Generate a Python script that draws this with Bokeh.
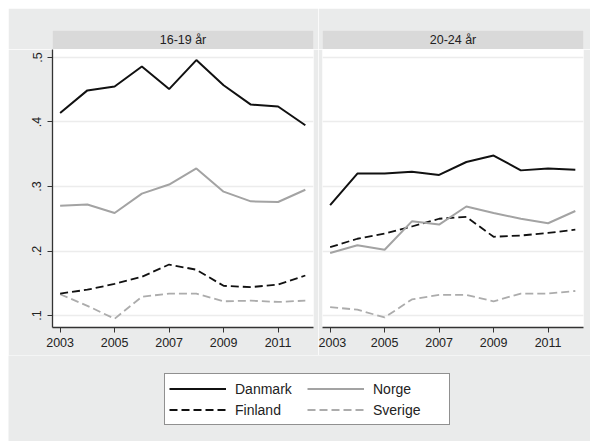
from bokeh.plotting import figure
from bokeh.layouts import column, row
from bokeh.models import (Range1d, FixedTicker, CustomJSTickFormatter, Label,
                          Legend, LegendItem)
from bokeh.embed import file_html
from bokeh.resources import INLINE

# ---------------- data ----------------
years = [2003, 2004, 2005, 2006, 2007, 2008, 2009, 2010, 2011, 2012]
panel_titles = ["16-19 år", "20-24 år"]
countries = ["Danmark", "Norge", "Finland", "Sverige"]

danmark_16 = [0.414, 0.449, 0.455, 0.486, 0.451, 0.496, 0.457, 0.427, 0.424, 0.395]
norge_16 = [0.270, 0.272, 0.259, 0.289, 0.303, 0.328, 0.292, 0.277, 0.276, 0.295]
finland_16 = [0.134, 0.140, 0.149, 0.160, 0.179, 0.171, 0.146, 0.144, 0.148, 0.162]
sverige_16 = [0.133, 0.115, 0.095, 0.129, 0.134, 0.134, 0.122, 0.123, 0.121, 0.123]

danmark_20 = [0.271, 0.320, 0.320, 0.323, 0.318, 0.338, 0.348, 0.325, 0.328, 0.326]
norge_20 = [0.197, 0.209, 0.202, 0.246, 0.241, 0.269, 0.259, 0.250, 0.243, 0.262]
finland_20 = [0.206, 0.219, 0.227, 0.238, 0.250, 0.253, 0.222, 0.224, 0.228, 0.233]
sverige_20 = [0.113, 0.109, 0.097, 0.125, 0.132, 0.132, 0.122, 0.134, 0.134, 0.138]

x_ticks = [2003, 2005, 2007, 2009, 2011]
y_ticks = [0.1, 0.2, 0.3, 0.4, 0.5]
y_tick_labels = [".1", ".2", ".3", ".4", ".5"]

panel_data = [
    {"Danmark": danmark_16, "Norge": norge_16, "Finland": finland_16, "Sverige": sverige_16},
    {"Danmark": danmark_20, "Norge": norge_20, "Finland": finland_20, "Sverige": sverige_20},
]

# ---------------- styles ----------------
OUTER = "#eaebeb"
STRIP = "#d9d9d9"
FONT = "Liberation Sans"
TXT = "#222222"
line_styles = {
    "Danmark": dict(line_color="#111111", line_dash="solid", line_width=2),
    "Norge": dict(line_color="#a3a3a3", line_dash="solid", line_width=2),
    "Finland": dict(line_color="#111111", line_dash="8 4", line_width=1.8),
    "Sverige": dict(line_color="#acacac", line_dash="8 4", line_width=1.8),
}

FRAME_W = 261
X_RANGE = (2002.72, 2012.30)
Y_RANGE = (0.0814, 0.5124)
borders = [(44, 5), (4, 7)]


def make_header(title, bl, br):
    h = figure(frame_width=FRAME_W, frame_height=19, x_range=Range1d(0, 1),
               y_range=Range1d(0, 1), x_axis_type=None, y_axis_type=None,
               output_backend="svg", toolbar_location=None,
               min_border_left=bl, min_border_right=br, min_border_top=22,
               min_border_bottom=0, border_fill_color=OUTER,
               background_fill_color=STRIP, outline_line_color=None)
    h.xgrid.visible = False
    h.ygrid.visible = False
    h.add_layout(Label(x=0.5, y=0.5, text=title, text_align="center",
                       text_baseline="middle", text_font=FONT,
                       text_font_size="12.5px", text_color=TXT))
    return h


def make_panel(data, show_y, bl, br):
    p = figure(frame_width=FRAME_W, frame_height=278,
               x_range=Range1d(*X_RANGE), y_range=Range1d(*Y_RANGE),
               output_backend="svg", toolbar_location=None,
               min_border_left=bl, min_border_right=br, min_border_top=0,
               min_border_bottom=28, border_fill_color=OUTER,
               background_fill_color="white", outline_line_color=None)
    for c in ["Sverige", "Finland", "Norge", "Danmark"]:
        p.line(years, data[c], **line_styles[c])
    p.xgrid.visible = False
    p.ygrid.grid_line_color = "#ececec"
    p.ygrid.grid_line_width = 1.5
    p.xaxis.ticker = FixedTicker(ticks=x_ticks)
    p.yaxis.ticker = FixedTicker(ticks=y_ticks)
    p.yaxis.formatter = CustomJSTickFormatter(
        args=dict(tvals=y_ticks, tlabels=y_tick_labels),
        code="const i = tvals.findIndex(t => Math.abs(t - tick) < 1e-9); return i >= 0 ? tlabels[i] : '';")
    for ax in [p.xaxis[0], p.yaxis[0]]:
        ax.axis_line_color = "#333333"
        ax.axis_line_width = 1.3
        ax.major_tick_line_color = "#333333"
        ax.major_tick_out = 5
        ax.major_tick_in = 0
        ax.minor_tick_line_color = None
        ax.major_label_text_font = FONT
        ax.major_label_text_font_size = "12.5px"
        ax.major_label_text_color = TXT
    p.xaxis.major_label_standoff = 5
    p.yaxis.major_label_standoff = 6
    p.yaxis.major_label_orientation = "vertical"
    if not show_y:
        p.yaxis.visible = False
    return p


cols = []
for i, (title, data) in enumerate(zip(panel_titles, panel_data)):
    bl, br = borders[i]
    cols.append(column(make_header(title, bl, br),
                       make_panel(data, i == 0, bl, br), spacing=0))

# legend figure
lf = figure(frame_width=582, frame_height=86, x_range=Range1d(0, 1),
            y_range=Range1d(0, 1), x_axis_type=None, y_axis_type=None,
            output_backend="svg", toolbar_location=None,
            min_border_left=0, min_border_right=0, min_border_top=0,
            min_border_bottom=0, border_fill_color=OUTER,
            background_fill_color=OUTER, outline_line_color=None)
lf.xgrid.visible = False
lf.ygrid.visible = False
items = []
for c in countries:
    r = lf.line(years, panel_data[0][c], visible=False, **line_styles[c])
    items.append(LegendItem(label=c, renderers=[r]))
legend = Legend(items=items, location=(156, 16), orientation="horizontal",
                ncols=2, border_line_color="#222222", border_line_width=1,
                background_fill_color="white", background_fill_alpha=1,
                padding=4, spacing=0, margin=0, glyph_width=57,
                glyph_height=21, label_height=21, label_standoff=9,
                label_width=72, label_text_font=FONT,
                label_text_font_size="14px", label_text_color=TXT)
lf.add_layout(legend)

layout = column(row(*cols, spacing=0), lf, spacing=0,
                styles={"margin-left": "8px", "margin-top": "8px"})

open("out.html", "w").write(file_html(layout, INLINE))
